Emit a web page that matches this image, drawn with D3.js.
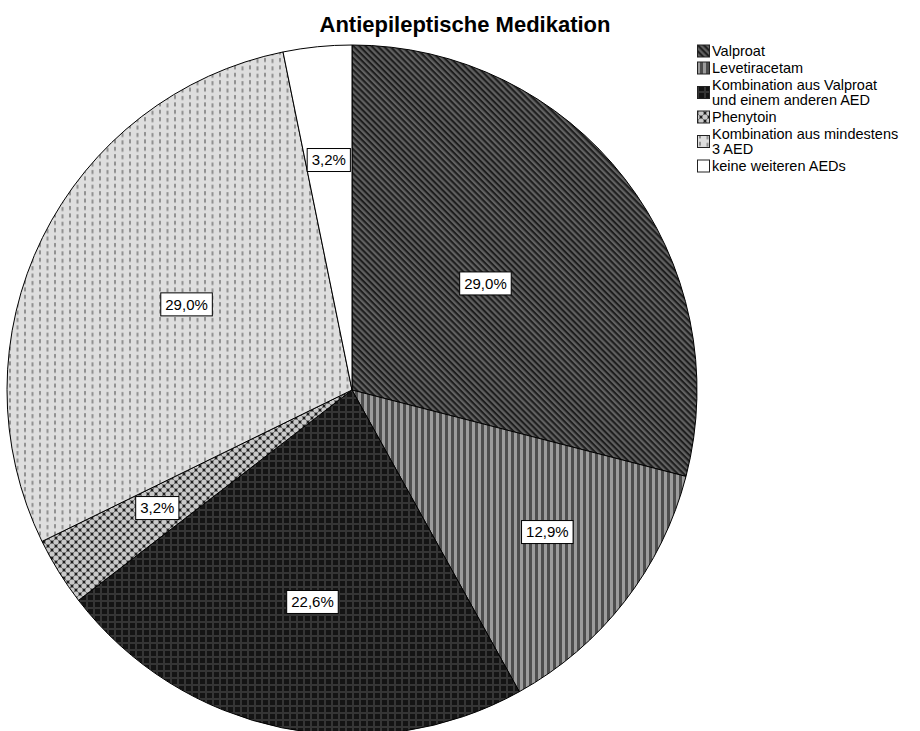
<!DOCTYPE html>
<html>
<head>
<meta charset="utf-8">
<script src="https://cdn.jsdelivr.net/npm/d3@7"></script>
<style>
  html, body { margin: 0; padding: 0; background: #fff; }
  svg { display: block; font-family: "Liberation Sans", Arial, sans-serif; }
</style>
</head>
<body>
<svg id="chart" width="920" height="731"></svg>
<script>
// Antiepileptic medication – share of patients per therapy group
const categories = [
  "Valproat",
  "Levetiracetam",
  "Kombination aus Valproat und einem anderen AED",
  "Phenytoin",
  "Kombination aus mindestens 3 AED",
  "keine weiteren AEDs"
];
const legendLines = [
  ["Valproat"],
  ["Levetiracetam"],
  ["Kombination aus Valproat", "und einem anderen AED"],
  ["Phenytoin"],
  ["Kombination aus mindestens", "3 AED"],
  ["keine weiteren AEDs"]
];
const percents = [29.0, 12.9, 22.6, 3.2, 29.0, 3.2];
const title = "Antiepileptische Medikation";

// layout
const cx = 352, cy = 390, R = 345;
// radial position of each value label, as a fraction of the radius
const labelRadius = [0.495, 0.7, 0.625, 0.66, 0.54, 0.67];
// small angular nudge per label (radians)
const labelNudge = [-0.015, -0.03, -0.02, 0.01, 0.02, 0.0];

const svg = d3.select("#chart");
const defs = svg.append("defs");

// ---- hatch / texture fills ----
function pattern(id, w, h, draw, transform) {
  const p = defs.append("pattern")
    .attr("id", id)
    .attr("patternUnits", "userSpaceOnUse")
    .attr("width", w).attr("height", h);
  if (transform) p.attr("patternTransform", transform);
  draw(p);
}
// Valproat: dark diagonal hatching "\"
pattern("pVal", 4.3, 4.3, p => {
  p.append("rect").attr("width", 4.3).attr("height", 4.3).attr("fill", "#616161");
  p.append("rect").attr("width", 4.3).attr("height", 2.1).attr("fill", "#1e1e1e");
}, "rotate(45)");
// Levetiracetam: vertical stripes
pattern("pLev", 6, 6, p => {
  p.append("rect").attr("width", 6).attr("height", 6).attr("fill", "#9c9c9c");
  p.append("rect").attr("x", 3).attr("width", 3).attr("height", 6).attr("fill", "#4e4e4e");
});
// Valproat + other AED: very dark plaid
pattern("pKomb", 7, 7, p => {
  p.append("rect").attr("width", 7).attr("height", 7).attr("fill", "#141414");
  p.append("rect").attr("x", 0).attr("width", 2).attr("height", 7).attr("fill", "#353535");
  p.append("rect").attr("y", 0).attr("width", 7).attr("height", 2).attr("fill", "#353535");
});
// Phenytoin: light dots on dark, diamond grid
pattern("pPhen", 8, 8, p => {
  p.append("rect").attr("width", 8).attr("height", 8).attr("fill", "#444");
  [[0,0],[8,0],[0,8],[8,8],[4,4]].forEach(([x,y]) =>
    p.append("circle").attr("cx", x).attr("cy", y).attr("r", 2.6).attr("fill", "#c9c9c9"));
  [[4,0],[0,4],[8,4],[4,8]].forEach(([x,y]) =>
    p.append("circle").attr("cx", x).attr("cy", y).attr("r", 1).attr("fill", "#111"));
});
// at least 3 AED: light grey with small vertical dashes
pattern("p3", 15, 7.4, p => {
  p.append("rect").attr("width", 15).attr("height", 7.4).attr("fill", "#dedede");
  p.append("rect").attr("x", 2).attr("y", 1).attr("width", 2).attr("height", 4).attr("fill", "#919191");
  p.append("rect").attr("x", 9.5).attr("y", 2).attr("width", 2).attr("height", 4).attr("fill", "#919191");
});
const fills = ["url(#pVal)", "url(#pLev)", "url(#pKomb)", "url(#pPhen)", "url(#p3)", "#ffffff"];
const color = d3.scaleOrdinal().domain(categories).range(fills);

// ---- pie ----
const pie = d3.pie().sort(null).value(d => d.value)
  .startAngle(0).endAngle(2 * Math.PI);
const data = categories.map((c, i) => ({ name: c, value: percents[i], idx: i }));
const arcs = pie(data);
const arc = d3.arc().innerRadius(0).outerRadius(R);

const g = svg.append("g").attr("transform", `translate(${cx},${cy})`);
g.selectAll("path.slice")
  .data(arcs)
  .join("path")
  .attr("class", "slice")
  .attr("d", arc)
  .attr("fill", d => color(d.data.name))
  .attr("stroke", "#000")
  .attr("stroke-width", 1);

// ---- value labels ----
const de = d3.formatLocale({ decimal: ",", thousands: ".", grouping: [3], currency: ["", " €"] });
const fmt = de.format(".1f");
const lbl = g.selectAll("g.lbl")
  .data(arcs)
  .join("g")
  .attr("class", "lbl")
  .attr("transform", d => {
    const a = (d.startAngle + d.endAngle) / 2 + labelNudge[d.data.idx];
    const r = R * labelRadius[d.data.idx];
    return `translate(${r * Math.sin(a)},${-r * Math.cos(a)})`;
  });
lbl.append("rect")
  .attr("fill", "#fff").attr("stroke", "#000").attr("stroke-width", 1);
const txt = lbl.append("text")
  .attr("text-anchor", "middle")
  .attr("dy", "0.36em")
  .attr("font-size", 15)
  .attr("fill", "#000")
  .text(d => fmt(d.data.value) + "%");
txt.each(function () {
  const w = this.getComputedTextLength() + 9;
  d3.select(this.parentNode).select("rect")
    .attr("x", -w / 2).attr("y", -11.5)
    .attr("width", w).attr("height", 23);
});

// ---- title ----
svg.append("text")
  .attr("x", 465).attr("y", 32)
  .attr("text-anchor", "middle")
  .attr("font-size", 22)
  .attr("font-weight", "bold")
  .text(title);

// ---- legend ----
const legend = svg.append("g").attr("transform", "translate(697,43)");
const lineH = 15;
let yPos = 0;
categories.forEach((c, i) => {
  const lines = legendLines[i];
  const blockH = lines.length * lineH + 2;
  const item = legend.append("g").attr("transform", `translate(0,${yPos})`);
  item.append("rect")
    .attr("x", 0.5).attr("y", blockH / 2 - 6.5)
    .attr("width", 12).attr("height", 12)
    .attr("fill", color(c))
    .attr("stroke", "#222").attr("stroke-width", 1);
  const t = item.append("text")
    .attr("font-size", 14.5)
    .attr("fill", "#000");
  t.selectAll("tspan")
    .data(lines)
    .join("tspan")
    .attr("x", 15)
    .attr("y", (d, k) => 13 + k * lineH)
    .text(d => d);
  yPos += blockH;
});
</script>
</body>
</html>
